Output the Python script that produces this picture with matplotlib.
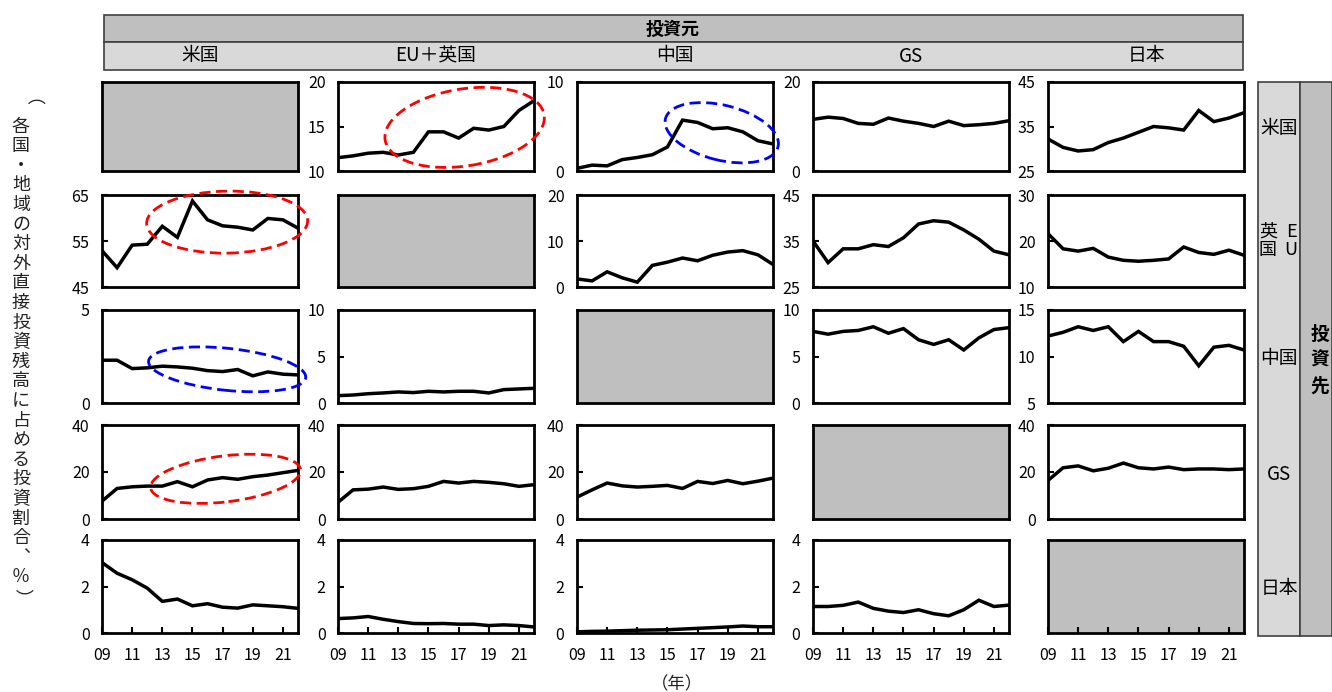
import matplotlib
matplotlib.use("Agg")
import matplotlib.pyplot as plt
from matplotlib.patches import Rectangle, Ellipse
from matplotlib.transforms import ScaledTranslation

plt.rcParams['font.family'] = ['Noto Sans CJK JP', 'DejaVu Sans']

# ---------------- data ----------------
years = list(range(2009, 2023))
year_ticks = list(range(2009, 2022, 2))
year_labels = ['09', '11', '13', '15', '17', '19', '21']

sources = ['米国', 'EU＋英国', '中国', 'GS', '日本']          # 投資元 (columns)
dest_labels = ['米国', None, '中国', 'GS', '日本']            # 投資先 (rows)

# destination: US
eu_to_us = [11.5, 11.7, 12.0, 12.1, 11.8, 12.1, 14.4, 14.4, 13.7, 14.8, 14.6, 15.0, 16.8, 17.9]
cn_to_us = [0.3, 0.66, 0.58, 1.28, 1.52, 1.83, 2.7, 5.72, 5.45, 4.75, 4.86, 4.4, 3.4, 3.04]
gs_to_us = [11.6, 12.1, 11.8, 10.7, 10.5, 11.9, 11.2, 10.7, 10.0, 11.2, 10.2, 10.4, 10.7, 11.3]
jp_to_us = [32.2, 30.3, 29.5, 29.8, 31.4, 32.4, 33.7, 35.0, 34.7, 34.2, 38.6, 36.1, 36.9, 38.1]
# destination: EU + UK
us_to_eu = [52.9, 49.2, 54.1, 54.3, 58.2, 55.8, 63.7, 59.6, 58.3, 58.0, 57.4, 59.9, 59.6, 57.8]
cn_to_eu = [1.75, 1.33, 3.3, 2.0, 1.05, 4.7, 5.4, 6.3, 5.7, 6.9, 7.6, 7.9, 7.0, 4.9]
gs_to_eu = [35.0, 30.3, 33.3, 33.3, 34.2, 33.8, 35.7, 38.7, 39.4, 39.1, 37.4, 35.4, 32.8, 32.0]
jp_to_eu = [21.6, 18.3, 17.8, 18.4, 16.5, 15.8, 15.6, 15.8, 16.1, 18.7, 17.5, 17.1, 18.0, 16.9]
# destination: China
us_to_cn = [2.3, 2.3, 1.85, 1.89, 1.98, 1.94, 1.87, 1.74, 1.69, 1.8, 1.46, 1.67, 1.55, 1.51]
eu_to_cn = [0.79, 0.86, 1.0, 1.08, 1.19, 1.12, 1.26, 1.19, 1.26, 1.26, 1.08, 1.44, 1.51, 1.58]
gs_to_cn = [7.7, 7.4, 7.7, 7.8, 8.2, 7.5, 8.0, 6.8, 6.3, 6.8, 5.7, 7.0, 7.9, 8.1]
jp_to_cn = [12.2, 12.6, 13.2, 12.8, 13.2, 11.6, 12.7, 11.6, 11.6, 11.1, 9.0, 11.0, 11.2, 10.7]
# destination: Global South
us_to_gs = [7.6, 13.0, 13.7, 14.0, 14.0, 15.9, 13.7, 16.6, 17.6, 16.9, 18.0, 18.7, 19.7, 20.7]
eu_to_gs = [7.1, 12.4, 12.7, 13.6, 12.6, 12.9, 13.9, 16.0, 15.3, 16.0, 15.6, 15.0, 13.9, 14.6]
cn_to_gs = [9.3, 12.4, 15.3, 14.1, 13.6, 13.9, 14.3, 13.0, 16.0, 15.1, 16.4, 15.0, 16.1, 17.4]
jp_to_gs = [16.4, 21.8, 22.6, 20.5, 21.6, 23.8, 21.8, 21.3, 22.1, 21.0, 21.3, 21.3, 21.0, 21.3]
# destination: Japan
us_to_jp = [3.03, 2.57, 2.29, 1.93, 1.36, 1.46, 1.17, 1.26, 1.11, 1.07, 1.21, 1.17, 1.13, 1.06]
eu_to_jp = [0.62, 0.65, 0.71, 0.59, 0.49, 0.41, 0.40, 0.41, 0.38, 0.38, 0.32, 0.35, 0.32, 0.26]
cn_to_jp = [0.05, 0.07, 0.08, 0.10, 0.12, 0.13, 0.14, 0.17, 0.20, 0.23, 0.26, 0.30, 0.27, 0.27]
gs_to_jp = [1.14, 1.14, 1.19, 1.33, 1.06, 0.94, 0.88, 1.0, 0.83, 0.74, 1.0, 1.41, 1.14, 1.2]

series = [
    [None, eu_to_us, cn_to_us, gs_to_us, jp_to_us],
    [us_to_eu, None, cn_to_eu, gs_to_eu, jp_to_eu],
    [us_to_cn, eu_to_cn, None, gs_to_cn, jp_to_cn],
    [us_to_gs, eu_to_gs, cn_to_gs, None, jp_to_gs],
    [us_to_jp, eu_to_jp, cn_to_jp, gs_to_jp, None],
]

yticks = [
    [None, [10, 15, 20], [0, 10], [0, 20], [25, 35, 45]],
    [[45, 55, 65], None, [0, 10, 20], [25, 35, 45], [10, 20, 30]],
    [[0, 5], [0, 5, 10], None, [0, 5, 10], [5, 10, 15]],
    [[0, 20, 40], [0, 20, 40], [0, 20, 40], None, [0, 20, 40]],
    [[0, 2, 4], [0, 2, 4], [0, 2, 4], [0, 2, 4], None],
]

# highlight ellipses: (row, col, centre year, centre value, width px, height px, angle, colour)
ellipses = [
    (0, 1, 2017.4, 14.9, 161, 77, 9, '#ff0000'),
    (1, 0, 2017.3, 59.1, 161, 62, 1, '#ff0000'),
    (0, 2, 2018.6, 4.3, 116, 55, -14, '#0000ff'),
    (2, 0, 2017.3, 1.81, 158, 42, -6, '#0000ff'),
    (3, 0, 2017.2, 17.1, 151, 46, 7, '#ff0000'),
]

# ---------------- layout ----------------
W, H = 1332, 692
fig = plt.figure(figsize=(W / 100, H / 100), dpi=100)


def fx(px):
    return px / W


def fy(py):
    return 1 - py / H


col_left = [102, 338, 577, 813, 1048]
col_w = 196
row_top = [82, 195, 310, 425, 540]
row_bot = [171, 287, 403, 519, 633]

TICK_FS = 11.5
axes = {}
for r in range(5):
    for c in range(5):
        ax = fig.add_axes([fx(col_left[c]), fy(row_bot[r]), col_w / W,
                           (row_bot[r] - row_top[r]) / H])
        axes[(r, c)] = ax
        ax.set_xlim(years[0], years[-1])
        for sp in ax.spines.values():
            sp.set_linewidth(2.0)
            sp.set_color('black')
        ax.tick_params(direction='in', length=4, width=1.5, labelsize=TICK_FS,
                       colors='black')
        ax.tick_params(axis='y', pad=9)
        if r == c:
            ax.set_facecolor('#bfbfbf')
            ax.set_yticks([])
        else:
            ax.plot(years, series[r][c], color='black', lw=2.5,
                    solid_joinstyle='miter')
            t = yticks[r][c]
            ax.set_ylim(t[0], t[-1])
            ax.set_yticks(t)
            ax.set_yticklabels([str(v) for v in t])
        if r == 4:
            ax.set_xticks(year_ticks)
            ax.set_xticklabels(year_labels)
            ax.tick_params(axis='x', pad=10)
        else:
            ax.set_xticks([])

for (r, c, cx, cy, wpx, hpx, ang, col) in ellipses:
    ax = axes[(r, c)]
    trans = fig.dpi_scale_trans + ScaledTranslation(cx, cy, ax.transData)
    e = Ellipse((0, 0), wpx / 100, hpx / 100, angle=ang, transform=trans,
                fill=False, edgecolor=col, lw=2.0, linestyle=(0, (4, 2)),
                clip_on=False, zorder=6)
    ax.add_artist(e)

# ---------------- header (投資元) ----------------
fig.add_artist(Rectangle((fx(104), fy(42)), (1243 - 104) / W, 27 / H,
                         transform=fig.transFigure, facecolor='#bfbfbf',
                         edgecolor='#404040', lw=1.2))
fig.add_artist(Rectangle((fx(104), fy(70)), (1243 - 104) / W, 28 / H,
                         transform=fig.transFigure, facecolor='#d9d9d9',
                         edgecolor='#404040', lw=1.2))
fig.text(fx(673), fy(29), '投資元', ha='center', va='center', fontsize=13,
         fontweight='bold')
for c, name in enumerate(sources):
    fig.text(fx(col_left[c] + col_w / 2), fy(56), name, ha='center',
             va='center', fontsize=13.5)

# ---------------- right side (投資先) ----------------
fig.add_artist(Rectangle((fx(1258), fy(636)), (1300 - 1258) / W, (636 - 82) / H,
                         transform=fig.transFigure, facecolor='#d9d9d9',
                         edgecolor='#404040', lw=1.2))
fig.add_artist(Rectangle((fx(1300), fy(636)), (1332 - 1300) / W, (636 - 82) / H,
                         transform=fig.transFigure, facecolor='#bfbfbf',
                         edgecolor='#404040', lw=1.2))
for r, name in enumerate(dest_labels):
    yc = (row_top[r] + row_bot[r]) / 2
    if name is None:
        fig.text(fx(1268), fy(yc), '英\n国', ha='center', va='center',
                 fontsize=13, linespacing=1.05)
        fig.text(fx(1291), fy(yc), 'E\nU', ha='center', va='center',
                 fontsize=13, linespacing=1.05)
    else:
        fig.text(fx(1279), fy(yc + 2), name, ha='center', va='center',
                 fontsize=13.5)
for i, ch in enumerate('投資先'):
    fig.text(fx(1320), fy(334 + i * 26), ch, ha='center', va='center',
             fontsize=13.5, fontweight='bold')

# ---------------- axis titles ----------------
ylab = '（各国・地域の対外直接投資残高に占める投資割合、％）'
for i, ch in enumerate(ylab):
    y = 107 + i * 19.6
    if ch in '（）':
        fig.text(fx(21), fy(y), ch, ha='center', va='center', fontsize=13,
                 rotation=-90, color='#222222')
    elif ch == '、':
        fig.text(fx(21), fy(y), '︑', ha='center', va='center', fontsize=13,
                 color='#222222')
    else:
        fig.text(fx(21), fy(y), ch, ha='center', va='center', fontsize=13,
                 color='#222222')

fig.text(fx(677), fy(684), '（年）', ha='center', va='center', fontsize=12.5,
         color='#222222')

fig.savefig('out.png', dpi=100)
